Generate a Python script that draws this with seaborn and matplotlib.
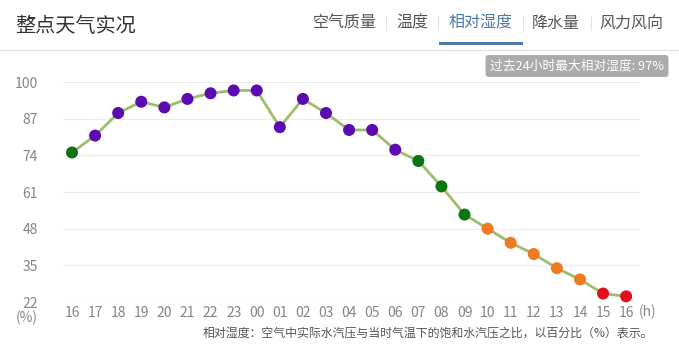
import numpy as np
import pandas as pd
import matplotlib
matplotlib.use("Agg")
import matplotlib.pyplot as plt
import seaborn as sns
from matplotlib.patches import Rectangle
from matplotlib.lines import Line2D

# ----------- data -----------
hours = ["16", "17", "18", "19", "20", "21", "22", "23", "00", "01", "02", "03",
         "04", "05", "06", "07", "08", "09", "10", "11", "12", "13", "14", "15", "16"]
humidity = [75, 81, 89, 93, 91, 94, 96, 97, 97, 84, 94, 89,
            83, 83, 76, 72, 63, 53, 48, 43, 39, 34, 30, 25, 24]
level = ["green", "purple", "purple", "purple", "purple", "purple", "purple", "purple",
         "purple", "purple", "purple", "purple", "purple", "purple", "purple", "green",
         "green", "green", "orange", "orange", "orange", "orange", "orange", "red", "red"]
y_ticks = [22, 35, 48, 61, 74, 87, 100]
tabs = ["空气质量", "温度", "相对湿度", "降水量", "风力风向"]

df = pd.DataFrame({"idx": range(len(hours)), "hour": hours,
                   "humidity": humidity, "level": level})

palette = {"purple": "#5b0bb0", "green": "#0c7512",
           "orange": "#ef7a22", "red": "#e0101c"}

sns.set_theme(style="white")
plt.rcParams["font.family"] = ["Noto Sans CJK SC", "DejaVu Sans"]

W, H = 679, 354
fig = plt.figure(figsize=(W / 100, H / 100), dpi=100)
ax = fig.add_axes([63 / W, 1 - 302 / H, (640 - 63) / W, (302 - 82) / H])

# grid lines
for v in y_ticks:
    ax.axhline(v, color="#ececec", lw=0.9, zorder=0)

sns.lineplot(data=df, x="idx", y="humidity", color="#9cbd6c", lw=2, ax=ax, zorder=2)
sns.scatterplot(data=df, x="idx", y="humidity", hue="level", palette=palette,
                s=75, edgecolor="none", legend=False, ax=ax, zorder=3, clip_on=False)

ax.set_xlim(-0.39, 24.6)
ax.set_ylim(22, 100)
ax.set_yticks(y_ticks)
ax.set_yticklabels([str(v) for v in y_ticks])
ax.set_xticks(df["idx"])
ax.set_xticklabels(hours)
ax.tick_params(axis="both", length=0, labelsize=10, labelcolor="#858585")
ax.tick_params(axis="y", pad=18)
ax.tick_params(axis="x", pad=3)
ax.set_xlabel("")
ax.set_ylabel("")
for s in ax.spines.values():
    s.set_visible(False)

# unit labels
fig.text(27 / W, 1 - 318 / H, "(%)", ha="center", va="center", fontsize=10, color="#858585")
fig.text(648 / W, 1 - 312 / H, "(h)", ha="center", va="center", fontsize=10, color="#858585")

# header
fig.text(15 / W, 1 - 27 / H, "整点天气实况", ha="left", va="center", fontsize=14.5, color="#333333")
tab_x = [344.5, 412.5, 480.5, 556, 631.5]
for name, x in zip(tabs, tab_x):
    c = "#4a78aa" if name == "相对湿度" else "#555555"
    fig.text(x / W, 1 - 23 / H, name, ha="center", va="center", fontsize=11.5, color=c)
for x in [386, 438, 523, 591]:
    fig.add_artist(Line2D([x / W, x / W], [1 - 16 / H, 1 - 30 / H], color="#e2e2e2", lw=0.8))
fig.add_artist(Rectangle((439 / W, 1 - 44.5 / H), 84 / W, 3 / H, color="#4f7aa8", lw=0))
fig.add_artist(Line2D([0, 1], [1 - 50 / H, 1 - 50 / H], color="#e3e3e3", lw=1))

# badge
fig.text(577 / W, 1 - 66 / H, "过去24小时最大相对湿度: 97%", ha="center", va="center",
         fontsize=9.2, color="white",
         bbox=dict(boxstyle="round,pad=0.35,rounding_size=0.25", fc="#ababab", ec="none"))

# footnote
fig.text(653 / W, 1 - 333 / H, "相对湿度：空气中实际水汽压与当时气温下的饱和水汽压之比，以百分比（%）表示。",
         ha="right", va="center", fontsize=8.6, color="#555555")

fig.savefig("out.png", dpi=100, facecolor="white")
